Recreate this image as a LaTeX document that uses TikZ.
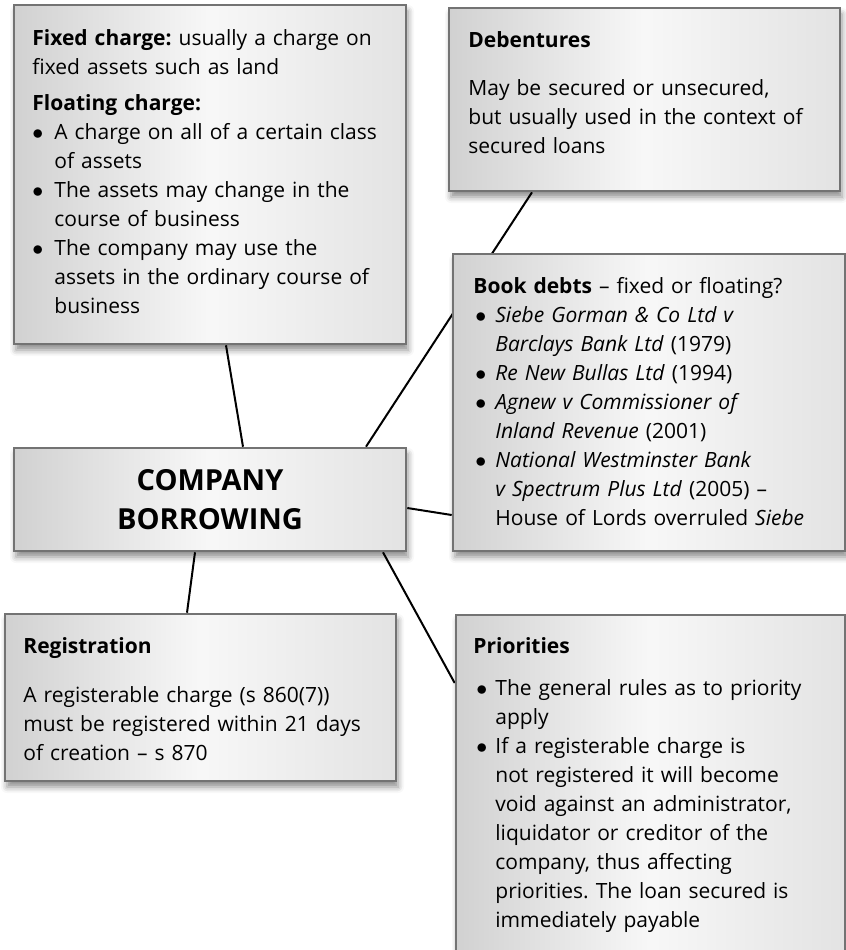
\documentclass[tikz,border=0pt]{standalone}
\usepackage{fontspec}
\setmainfont{Open Sans}
\usetikzlibrary{backgrounds,shadows.blur}
\frenchspacing

\newcommand{\bitem}[2][0pt]{\par\hangindent=11pt\hangafter=1\noindent\makebox[11pt][l]{\hspace{#1}$\bullet$}#2}

\tikzset{
  panel/.style={draw=black!55, line width=1.3pt, left color=black!18, right color=black!11, middle color=white!97!black,
    blur shadow={shadow xshift=1pt, shadow yshift=-3pt, shadow blur radius=3pt, shadow opacity=45}, inner sep=0pt},
  txt/.style={anchor=base west, inner sep=0pt, text width=200pt, align=left, font=\fontsize{10.5}{14.5}\selectfont},
  link/.style={line width=1pt}
}

\begin{document}
\begin{tikzpicture}[x=0.5pt, y=-0.5pt]
      \useasboundingbox (0,0) rectangle (846,950);

      \node[panel, minimum width=196pt, minimum height=169.5pt] (fixed) at (210,174.5) {};
      \node[panel, minimum width=195.5pt, minimum height=91.5pt] (deb) at (644.5,99.5) {};
      \node[panel, minimum width=196pt, minimum height=148.5pt] (book) at (649,402.5) {};
      \node[panel, minimum width=196pt, minimum height=51.5pt, align=center,
        font=\bfseries\fontsize{14.5}{19.5}\selectfont] (comp) at (210,499.5) {COMPANY\\BORROWING};
      \node[panel, minimum width=195.5pt, minimum height=83.5pt] (reg) at (200.5,697.5) {};
      \node[panel, minimum width=194.5pt, minimum height=172.5pt] (prio) at (650.5,787.5) {};

      \node[txt] (fixedtxt) at (32,45) {\textbf{Fixed charge:} usually a charge on\newline fixed assets such as land\par
        \vspace{3.5pt}\textbf{Floating charge:}
        \bitem{A charge on all of a certain class\newline of assets}
        \bitem{The assets may change in the\newline course of business}
        \bitem{The company may use the\newline assets in the ordinary course of\newline business}\par};
      \node[txt] (debtxt) at (468,47) {\textbf{Debentures}\par
        \vspace{9.5pt}May be secured or unsecured,\newline but usually used in the context of\newline secured loans};
      \node[txt] (booktxt) at (473,293) {\textbf{Book debts} -- fixed or floating?
        \bitem[1pt]{\textit{Siebe Gorman \& Co Ltd v}\newline \textit{Barclays Bank Ltd} (1979)}
        \bitem[1pt]{\textit{Re New Bullas Ltd} (1994)}
        \bitem[1pt]{\textit{Agnew v Commissioner of}\newline \textit{Inland Revenue} (2001)}
        \bitem[1pt]{\textit{National Westminster Bank}\newline \textit{v Spectrum Plus Ltd} (2005) --\newline House of Lords overruled \textit{Siebe}}\par};
      \node[txt] (regtxt) at (23,653) {\textbf{Registration}\par
        \vspace{10pt}A registerable charge (s 860(7))\newline must be registered within 21 days\newline of creation -- s 870};
      \node[txt] (priotxt) at (473,653) {\textbf{Priorities}\par
        \vspace{6.5pt}\bitem[1.5pt]{The general rules as to priority\newline apply}
        \bitem[1.5pt]{If a registerable charge is\newline not registered it will become\newline void against an administrator,\newline liquidator or creditor of the\newline company, thus affecting\newline priorities. The loan secured is\newline immediately payable}\par};

      \begin{scope}[on background layer]
        \draw[link] ([xshift=8pt]fixed.south) to ([xshift=16.5pt]comp.north);
        \draw[link] ([xshift=78pt]comp.north) to ([xshift=-56.25pt]deb.south);
        \draw[link] ([yshift=-4.25pt]comp.east) to ([yshift=-56.25pt]book.west);
        \draw[link] ([xshift=-7.5pt]comp.south) to ([xshift=-6.75pt]reg.north);
        \draw[link] ([xshift=86.5pt]comp.south) to ([yshift=52.25pt]prio.west);
      \end{scope}
    \end{tikzpicture}
\end{document}
